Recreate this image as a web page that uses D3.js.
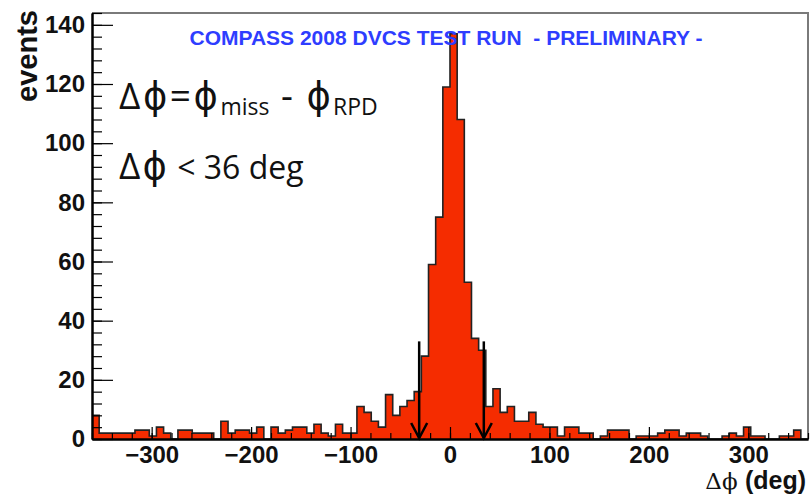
<!DOCTYPE html>
<html>
<head>
<meta charset="utf-8">
<script src="https://cdn.jsdelivr.net/npm/d3@7"></script>
<style>
  body { margin: 0; background: #fff; }
</style>
</head>
<body>
<script>
// histogram contents, 100 bins of 7.2 deg from -360 to 360
const counts = [
  8, 2, 2, 2, 2, 2, 3, 3, 1, 4, 2, 0, 3, 3, 2, 2, 2, 0, 6, 2, 3, 3, 2, 4,
  0, 4, 2, 3, 4, 4, 2, 5, 2, 1, 5, 2, 2, 11, 9, 6, 4, 15, 8, 11, 13, 16,
  28, 59, 75, 119, 137, 108, 53, 34, 30, 11, 17,
  9, 11, 6, 6, 9, 5, 4, 4, 1, 4, 4, 2, 2, 0, 1, 3, 3, 3, 0, 1, 1,
  1, 2, 3, 3, 1, 2, 2, 1, 0, 0, 1, 2, 1, 4, 1, 1, 0, 0, 1, 1, 3, 0
];
const xDomain = [-360, 360];
const yDomain = [0, 144];
const xMajor = [-300, -200, -100, 0, 100, 200, 300];
const yMajor = [0, 20, 40, 60, 80, 100, 120, 140];
const cutArrows = [-31, 34];   // arrow positions (deg)
const arrowTop = 33;           // arrow tail height (events)
const titleText = 'COMPASS 2008 DVCS TEST RUN  - PRELIMINARY -';

const W = 812, H = 495;
const helv = '"Liberation Sans", Arial, sans-serif';
const calib = '"Open Sans", "DejaVu Sans", sans-serif';

const svg = d3.select('body').append('svg')
  .attr('width', W)
  .attr('height', H);

svg.append('rect').attr('width', W).attr('height', H).attr('fill', '#fff');

const x = d3.scaleLinear().domain(xDomain).range([92, 808]);
const y = d3.scaleLinear().domain(yDomain).range([439, 13]);

const binW = (xDomain[1] - xDomain[0]) / counts.length;
const pts = counts.map((c, i) => ({ lo: xDomain[0] + i * binW, c: c }));
pts.push({ lo: xDomain[1], c: counts[counts.length - 1] });

// frame (top / right)
svg.append('path')
  .attr('d', `M${x(xDomain[0])},${y(yDomain[1])}H${x(xDomain[1])}V${y(0)}`)
  .attr('fill', 'none')
  .attr('stroke', '#7a7a7a')
  .attr('stroke-width', 2);

// filled histogram
const area = d3.area()
  .curve(d3.curveStepAfter)
  .x(d => x(d.lo))
  .y0(y(0))
  .y1(d => y(d.c));

svg.append('path')
  .datum(pts)
  .attr('d', area)
  .attr('fill', '#f52c00');

const outline = d3.line()
  .curve(d3.curveStepAfter)
  .x(d => x(d.lo))
  .y(d => y(d.c));

svg.append('path')
  .datum(pts)
  .attr('d', outline)
  .attr('fill', 'none')
  .attr('stroke', '#222')
  .attr('stroke-width', 1.6);

// axes
const yMinor = d3.range(yDomain[0], yDomain[1] + 0.1, 4);
const xMinor = d3.range(xDomain[0], xDomain[1] + 0.1, 20);

const gy = svg.append('g').attr('transform', `translate(${x(xDomain[0])},0)`);
gy.append('g')
  .call(d3.axisLeft(y).tickValues(yMinor).tickSize(-10).tickSizeOuter(0).tickFormat(''));
gy.append('g')
  .call(d3.axisLeft(y).tickValues(yMajor).tickSize(-21).tickSizeOuter(0).tickPadding(7));

const gx = svg.append('g').attr('transform', `translate(0,${y(0)})`);
gx.append('g')
  .call(d3.axisBottom(x).tickValues(xMinor).tickSize(-6).tickSizeOuter(0).tickFormat(''));
gx.append('g')
  .call(d3.axisBottom(x).tickValues(xMajor).tickSize(-12).tickSizeOuter(0).tickPadding(7));

svg.selectAll('.domain').attr('stroke', '#000').attr('stroke-width', 2);
svg.selectAll('.tick line').attr('stroke', '#000').attr('stroke-width', 1.2);
svg.selectAll('.tick text')
  .attr('font-size', 24).attr('font-weight', 'bold').attr('fill', '#111')
  .attr('font-family', helv);

// cut arrows
cutArrows.forEach(c => {
  const ax = x(c), y0 = y(0) - 1;
  svg.append('line')
    .attr('x1', ax).attr('x2', ax)
    .attr('y1', y(arrowTop)).attr('y2', y0)
    .attr('stroke', '#000').attr('stroke-width', 2.5);
  svg.append('path')
    .attr('d', `M${ax - 8},${y0 - 15}L${ax},${y0}L${ax + 8},${y0 - 15}`)
    .attr('fill', 'none')
    .attr('stroke', '#000').attr('stroke-width', 2.5);
});

// titles
svg.append('text')
  .attr('x', 446).attr('y', 45)
  .attr('text-anchor', 'middle')
  .style('white-space', 'pre')
  .attr('font-family', helv)
  .attr('font-size', 21).attr('font-weight', 'bold')
  .attr('fill', '#2e3dff')
  .text(titleText);

svg.append('text')
  .attr('transform', 'translate(37,10) rotate(-90)')
  .attr('text-anchor', 'end')
  .attr('font-family', helv)
  .attr('font-size', 29).attr('font-weight', 'bold')
  .attr('fill', '#111')
  .text('events');

const xt = svg.append('text')
  .attr('x', 806).attr('y', 489)
  .attr('text-anchor', 'end')
  .attr('font-family', helv)
  .attr('font-size', 25).attr('fill', '#111');
xt.append('tspan').attr('font-family', '"DejaVu Serif", serif').attr('font-size', 23).text('Δϕ ');
xt.append('tspan').attr('font-weight', 'bold').text('(deg)');

// annotations
const a1 = svg.append('text')
  .attr('x', 119).attr('y', 109)
  .attr('font-family', calib)
  .attr('font-size', 37).attr('fill', '#111');
a1.append('tspan').attr('letter-spacing', 2.5).text('Δϕ=ϕ');
a1.append('tspan').attr('font-size', 23).attr('dy', 6).text('miss');
a1.append('tspan').attr('dy', -6).attr('letter-spacing', 2).text(' - ϕ');
a1.append('tspan').attr('font-size', 23).attr('dy', 6).text('RPD');

const a2 = svg.append('text')
  .attr('x', 119).attr('y', 179)
  .attr('font-family', calib)
  .attr('font-size', 32).attr('fill', '#111');
a2.append('tspan').attr('font-size', 37).attr('letter-spacing', 2).text('Δϕ');
a2.append('tspan').text(' < 36 deg');
</script>
</body>
</html>
